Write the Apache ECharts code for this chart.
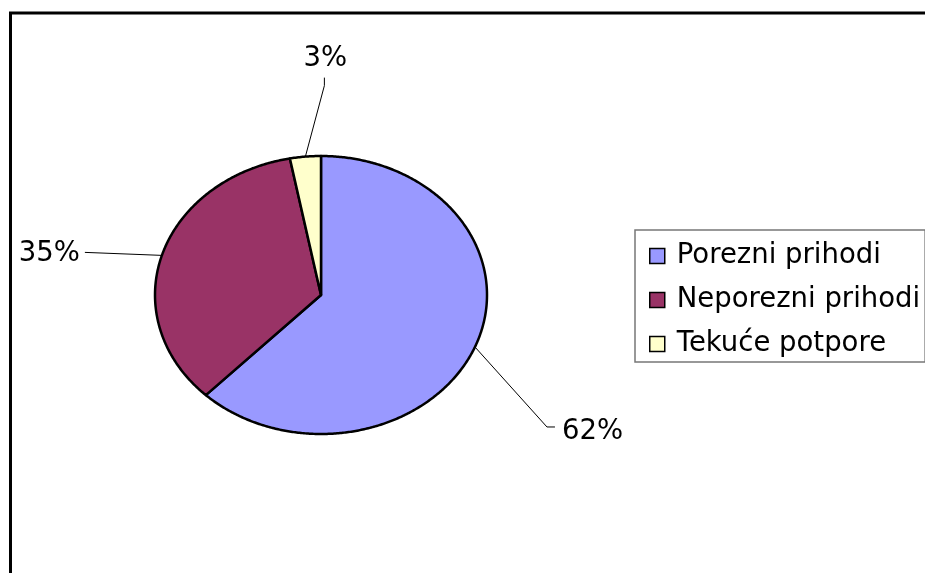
<!DOCTYPE html>
<html><head><meta charset="utf-8">
<script src="https://cdn.jsdelivr.net/npm/echarts@6/dist/echarts.min.js"></script>
<style>html,body{margin:0;padding:0;background:#fff}#c{width:925px;height:573px}</style>
</head><body><div id="c"></div><script>
const categories = ['Porezni prihodi', 'Neporezni prihodi', 'Tekuće potpore'];
const values = [62.2, 34.8, 3.0];
const colors = ['#9999FF', '#993366', '#FFFFCC'];

const total = values.reduce((a, b) => a + b, 0);
const CX = 321, CY = 295, RX = 166, RY = 139;
const FONT = '27.5px "DejaVu Sans"';
// leader-line layout per slice (relative to the slice's mid-edge anchor)
const labelLayout = [
  { elbow: [72, 80], tail: [8, 0], text: [7, 5], align: 'left', v: 'middle' },
  { elbow: [-77, -3], tail: [0, 0], text: [-5, 1], align: 'right', v: 'middle' },
  { elbow: [19, -71], tail: [0, -8], text: [1, -5], align: 'center', v: 'bottom' }
];
function pt(frac) {
  const a = frac * 2 * Math.PI;
  return [CX + RX * Math.sin(a), CY - RY * Math.cos(a)];
}
function renderSlice(idx) {
  return function (params, api) {
    const v = api.value(0);
    let start = 0;
    for (let k = 0; k < idx; k++) start += values[k];
    const f0 = start / total, f1 = (start + v) / total;
    const pts = [[CX, CY]];
    const n = Math.max(4, Math.ceil((f1 - f0) * 720));
    for (let i = 0; i <= n; i++) pts.push(pt(f0 + (f1 - f0) * i / n));
    const mid = pt((f0 + f1) / 2);
    const L = labelLayout[idx];
    const e = [mid[0] + L.elbow[0], mid[1] + L.elbow[1]];
    const t = [e[0] + L.tail[0], e[1] + L.tail[1]];
    const pct = Math.round(v / total * 100) + '%';
    return {
      type: 'group', children: [
        { type: 'polygon', shape: { points: pts }, style: { fill: colors[idx], stroke: '#000', lineWidth: 2.5, lineJoin: 'round' } },
        { type: 'polyline', shape: { points: [mid, e, t] }, style: { stroke: '#000', lineWidth: 1, fill: null } },
        { type: 'text', x: t[0] + L.text[0], y: t[1] + L.text[1], style: { text: pct, fill: '#000', font: FONT, align: L.align, verticalAlign: L.v } }
      ]
    };
  };
}
const chart = echarts.init(document.getElementById('c'), null, { renderer: 'canvas' });
chart.setOption({
  animation: false,
  backgroundColor: '#fff',
  graphic: [{
    type: 'rect', x: 0, y: 0, z: -10, silent: true,
    shape: { x: 10.5, y: 13, width: 1000, height: 1000 },
    style: { fill: 'transparent', stroke: '#000', lineWidth: 3 }
  }],
  legend: {
    data: categories,
    orient: 'vertical',
    left: 635, top: 230,
    padding: [12, 5, 4, 14],
    itemWidth: 15, itemHeight: 15, itemGap: 16,
    icon: 'rect',
    borderColor: '#777', borderWidth: 1.5,
    itemStyle: { borderColor: '#000', borderWidth: 1.5 },
    textStyle: { fontFamily: 'DejaVu Sans', fontSize: 27.5, color: '#000', lineHeight: 28, padding: [0, 0, 0, 7] }
  },
  series: categories.map((name, i) => ({
    type: 'custom', name, coordinateSystem: 'none',
    data: [[values[i]]],
    itemStyle: { color: colors[i] },
    renderItem: renderSlice(i)
  }))
});
</script></body></html>
